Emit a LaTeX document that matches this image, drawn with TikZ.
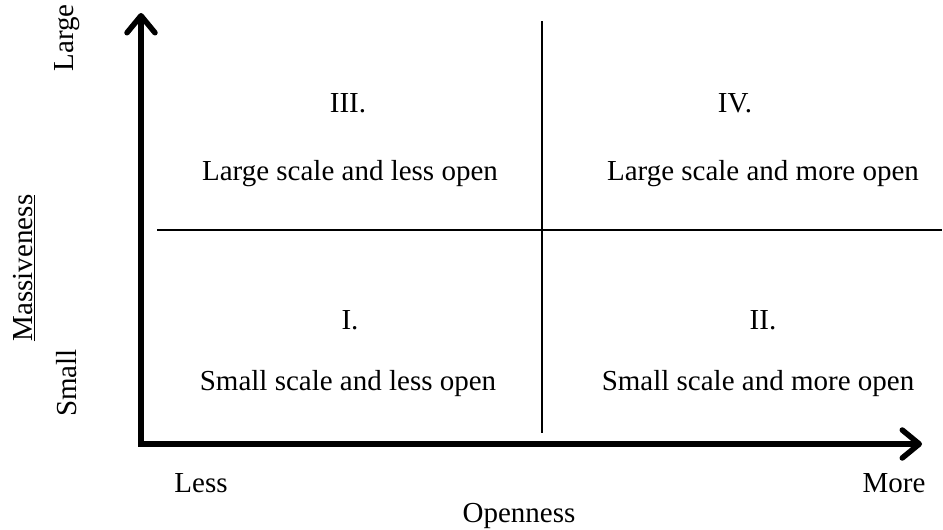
\documentclass[tikz,border=0pt]{standalone}
\usepackage{fontspec}
\setmainfont{Liberation Serif}
\usetikzlibrary{arrows.meta}
\tikzset{
  axis/.style={line width=5.5pt, line join=miter, {Straight Barb[length=17pt,width=28pt,round]}-{Straight Barb[length=17pt,width=28pt,round]}},
  divider/.style={line width=2pt},
  lbl/.style={font=\fontsize{29}{34}\selectfont, inner sep=0pt, anchor=center},
  vlbl/.style={lbl, rotate=90}
}
\begin{document}
\begin{tikzpicture}[x=1pt,y=-1pt]
\useasboundingbox (0,0) rectangle (943,530);
\coordinate (O) at (141,444);
\coordinate (Ytip) at (141,13);
\coordinate (Xtip) at (922,444);
\coordinate (vtop) at (542,21);
\coordinate (vbot) at (542,433);
\coordinate (hl) at (157,230);
\coordinate (hr) at (942,230);
\draw[divider] (vtop) -- (vbot);
\draw[divider] (hl) -- (hr);
\draw[axis] (Ytip) -- (O) -- (Xtip);
\node[lbl] (q3n) at (348,103) {III.};
\node[lbl] (q3t) at (350,174) {Large scale and less open};
\node[lbl] (q4n) at (735,103) {IV.};
\node[lbl] (q4t) at (763,174) {Large scale and more open};
\node[lbl] (q1n) at (350,320) {I.};
\node[lbl] (q1t) at (348,384) {Small scale and less open};
\node[lbl] (q2n) at (763,320) {II.};
\node[lbl] (q2t) at (758,384) {Small scale and more open};
\node[lbl] (less) at (201,483) {Less};
\node[lbl] (more) at (894,483) {More};
\node[lbl] (open) at (519,516) {Openness};
\node[vlbl] (large) at (67,38) {Large};
\node[vlbl] (small) at (67,383) {Small};
\node[vlbl] (mass) at (24,268) {\underline{Massiveness}};
\end{tikzpicture}
\end{document}
